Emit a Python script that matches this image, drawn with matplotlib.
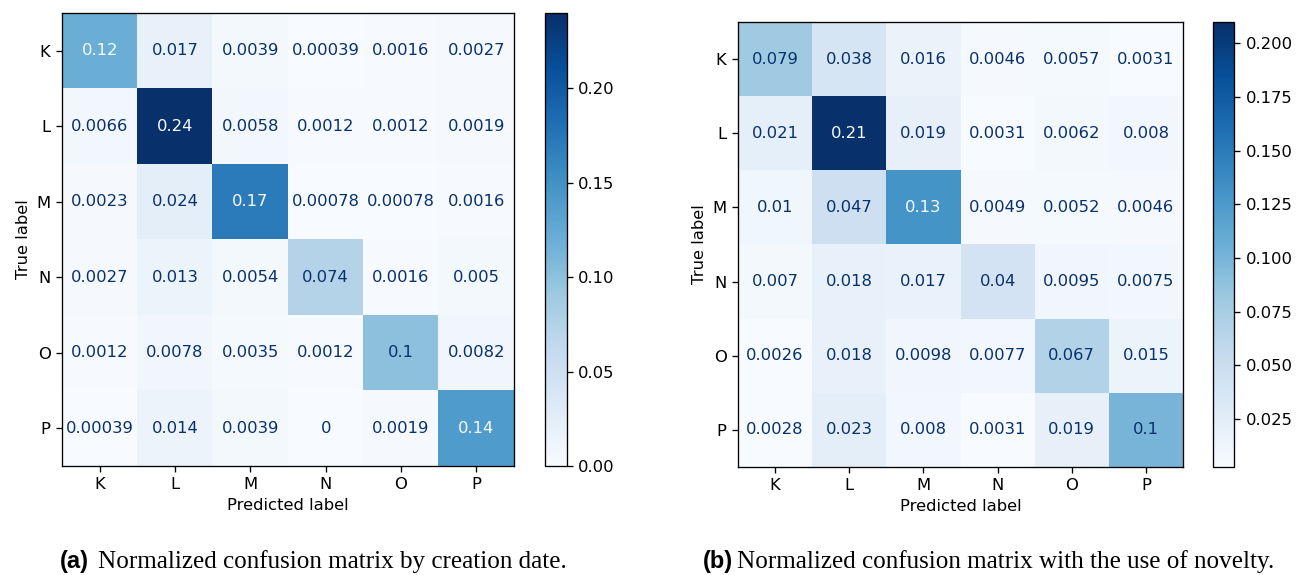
import numpy as np
import matplotlib
matplotlib.use("Agg")
import matplotlib.pyplot as plt

# class labels shared by both matrices
labels = ["K", "L", "M", "N", "O", "P"]

# (a) normalized confusion matrix by creation date
cm_date = np.array([
    [0.12, 0.017, 0.0039, 0.00039, 0.0016, 0.0027],
    [0.0066, 0.24, 0.0058, 0.0012, 0.0012, 0.0019],
    [0.0023, 0.024, 0.17, 0.00078, 0.00078, 0.0016],
    [0.0027, 0.013, 0.0054, 0.074, 0.0016, 0.005],
    [0.0012, 0.0078, 0.0035, 0.0012, 0.1, 0.0082],
    [0.00039, 0.014, 0.0039, 0.0, 0.0019, 0.14],
])

# (b) normalized confusion matrix with novelty
cm_novelty = np.array([
    [0.079, 0.038, 0.016, 0.0046, 0.0057, 0.0031],
    [0.021, 0.21, 0.019, 0.0031, 0.0062, 0.008],
    [0.01, 0.047, 0.13, 0.0049, 0.0052, 0.0046],
    [0.007, 0.018, 0.017, 0.04, 0.0095, 0.0075],
    [0.0026, 0.018, 0.0098, 0.0077, 0.067, 0.015],
    [0.0028, 0.023, 0.008, 0.0031, 0.019, 0.1],
])

cbar_ticks_a = [0.00, 0.05, 0.10, 0.15, 0.20]
cbar_ticks_b = [0.025, 0.050, 0.075, 0.100, 0.125, 0.150, 0.175, 0.200]

captions = [("(a)", "Normalized confusion matrix by creation date."),
            ("(b)", "Normalized confusion matrix with the use of novelty.")]

W, H = 1298, 575
fs = 11.8
plt.rcParams.update({
    "font.size": fs,
    "axes.linewidth": 0.95,
    "xtick.major.size": 4.1,
    "ytick.major.size": 4.1,
    "xtick.major.width": 0.95,
    "ytick.major.width": 0.95,
    "xtick.major.pad": 4.1,
    "ytick.major.pad": 4.1,
})

fig = plt.figure(figsize=(W / 100, H / 100), dpi=100)
cmap = plt.get_cmap("Blues")


def px(x0, y1, w, h):
    # pixel box (left, bottom, width, height) -> figure fraction
    return [x0 / W, 1 - y1 / H, w / W, h / H]


def draw_cm(ax, cax, cm, ticks, fmt):
    im = ax.imshow(cm, cmap=cmap, interpolation="nearest", aspect="auto")
    vmin, vmax = cm.min(), cm.max()
    thresh = (vmin + vmax) / 2.0
    for i in range(cm.shape[0]):
        for j in range(cm.shape[1]):
            v = cm[i, j]
            color = cmap(0.0) if v >= thresh else cmap(1.0)
            ax.text(j, i, format(v, ".2g"), ha="center", va="center",
                    color=color, fontsize=fs)
    ax.set_xticks(range(len(labels)))
    ax.set_yticks(range(len(labels)))
    ax.set_xticklabels(labels)
    ax.set_yticklabels(labels)
    ax.set_xlabel("Predicted label")
    ax.set_ylabel("True label")
    cb = fig.colorbar(im, cax=cax)
    cb.set_ticks(ticks)
    cb.ax.set_yticklabels([format(t, fmt) for t in ticks])
    cb.outline.set_linewidth(0.95)


ax1 = fig.add_axes(px(62, 466, 452, 453))
cax1 = fig.add_axes(px(545, 466, 21.5, 453))
draw_cm(ax1, cax1, cm_date, cbar_ticks_a, ".2f")

ax2 = fig.add_axes(px(738, 467, 445, 445))
cax2 = fig.add_axes(px(1213, 467, 21, 445))
draw_cm(ax2, cax2, cm_novelty, cbar_ticks_b, ".3f")

# captions: bold sans tag followed by serif text
base_y = 1 - 568 / H
for (tag, txt), xt, xs in zip(captions, [60, 703], [98, 737]):
    fig.text(xt / W, base_y, tag, family="Liberation Sans", weight="bold",
             fontsize=17, va="baseline", ha="left")
    fig.text(xs / W, base_y, txt, family="Liberation Serif",
             fontsize=18.1, va="baseline", ha="left")

fig.savefig("out.png", dpi=100)
